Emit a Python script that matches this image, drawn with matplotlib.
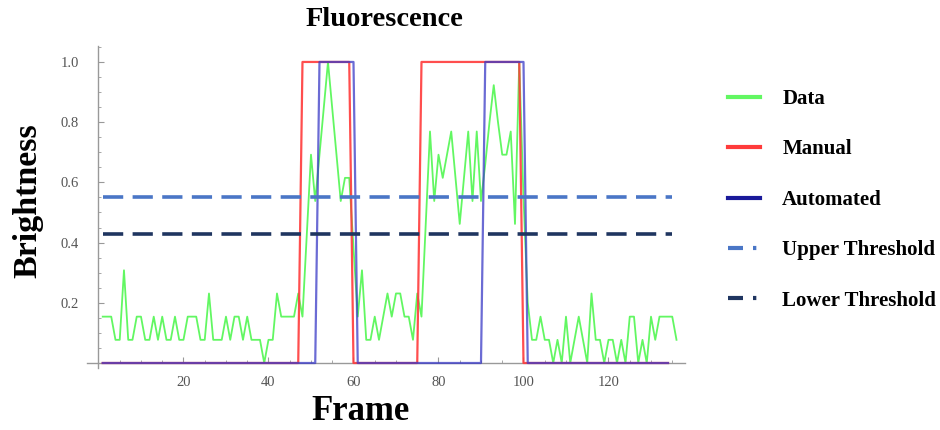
import matplotlib
matplotlib.use("Agg")
import matplotlib.pyplot as plt
from matplotlib.lines import Line2D
from matplotlib.ticker import MultipleLocator

plt.rcParams['font.family'] = ['Liberation Serif', 'DejaVu Serif']

# frames and brightness
frames = list(range(1, 137))
brightness = [
    0.154, 0.154, 0.154, 0.077, 0.077, 0.308, 0.077, 0.077, 0.154, 0.154,
    0.077, 0.077, 0.154, 0.077, 0.154, 0.077, 0.077, 0.154, 0.077, 0.077,
    0.154, 0.154, 0.154, 0.077, 0.077, 0.231, 0.077, 0.077, 0.077, 0.154,
    0.077, 0.154, 0.154, 0.077, 0.154, 0.077, 0.077, 0.077, 0.0, 0.077,
    0.077, 0.231, 0.154, 0.154, 0.154, 0.154, 0.231, 0.154, 0.42, 0.692,
    0.538, 0.692, 0.846, 1.0, 0.846, 0.692, 0.538, 0.615, 0.615, 0.385,
    0.154, 0.308, 0.077, 0.077, 0.154, 0.077, 0.154, 0.231, 0.154, 0.231,
    0.231, 0.154, 0.154, 0.077, 0.231, 0.154, 0.462, 0.769, 0.538, 0.692,
    0.615, 0.692, 0.769, 0.615, 0.462, 0.615, 0.769, 0.538, 0.769, 0.538,
    0.66, 0.80, 0.923, 0.80, 0.692, 0.692, 0.769, 0.462, 1.0, 0.55,
    0.20, 0.077, 0.077, 0.154, 0.077, 0.077, 0.0, 0.077, 0.0, 0.154,
    0.0, 0.077, 0.154, 0.077, 0.0, 0.231, 0.077, 0.077, 0.0, 0.077,
    0.077, 0.0, 0.077, 0.0, 0.154, 0.154, 0.0, 0.077, 0.0, 0.154,
    0.077, 0.154, 0.154, 0.154, 0.154, 0.077,
]

# manual / automated detection (on-intervals, inclusive)
state_frames = list(range(1, 135))
manual_on = [(48, 59), (76, 99)]
auto_on = [(52, 60), (91, 100)]
manual = [1 if any(a <= f <= b for a, b in manual_on) else 0 for f in state_frames]
automated = [1 if any(a <= f <= b for a, b in auto_on) else 0 for f in state_frames]

upper_threshold = 0.55
lower_threshold = 0.43
threshold_span = [1, 135]

fig = plt.figure(figsize=(9.4, 4.3), dpi=100)
ax = fig.add_axes([87 / 940, 1 - 368 / 430, 598 / 940, 322 / 430])

c_data = '#62f762'
c_manual = '#ff3b3b'
c_auto = '#3a3ac6'
c_upper = '#4a76c6'
c_lower = '#1f3560'

ax.plot(frames, brightness, color=c_data, lw=1.3, zorder=2)
ax.plot(state_frames, manual, color=c_manual, lw=1.6, alpha=0.9, zorder=3)
ax.plot(state_frames, automated, color=c_auto, lw=1.6, alpha=0.75, zorder=4)
ax.plot(threshold_span, [upper_threshold] * 2, color=c_upper, lw=2.6,
        dashes=(5.6, 2.6), zorder=5)
ax.plot(threshold_span, [lower_threshold] * 2, color=c_lower, lw=2.6,
        dashes=(5.6, 2.6), zorder=5)

ax.set_xlim(-2.7, 138)
ax.set_ylim(-0.0166, 1.053)

for s in ['top', 'right']:
    ax.spines[s].set_visible(False)
ax.spines['left'].set_position(('data', 0))
ax.spines['bottom'].set_position(('data', 0))
for s in ['left', 'bottom']:
    ax.spines[s].set_color('#999999')
    ax.spines[s].set_linewidth(1.0)

ax.set_xticks([20, 40, 60, 80, 100, 120])
ax.set_yticks([0.2, 0.4, 0.6, 0.8, 1.0])
ax.set_yticklabels(['0.2', '0.4', '0.6', '0.8', '1.0'])
ax.xaxis.set_minor_locator(MultipleLocator(5))
ax.yaxis.set_minor_locator(MultipleLocator(0.05))
ax.tick_params(which='both', direction='in', color='#999999', labelsize=10.5,
               labelcolor='#555555')
ax.tick_params(which='major', length=4, width=0.8)
ax.tick_params(which='minor', length=2, width=0.6)
ax.tick_params(axis='x', pad=9)
ax.tick_params(axis='y', pad=14)

fig.text(385 / 940, 1 - 19 / 430, 'Fluorescence', ha='center', va='center',
         fontsize=20.5, fontweight='bold')
fig.text(361 / 940, 1 - 411 / 430, 'Frame', ha='center', va='center',
         fontsize=25, fontweight='bold')
fig.text(28 / 940, 1 - 201 / 430, 'Brightness', ha='center', va='center',
         rotation=90, fontsize=24.5, fontweight='bold')

handles = [
    Line2D([], [], color=c_data, lw=3),
    Line2D([], [], color=c_manual, lw=3),
    Line2D([], [], color='#1a1a9a', lw=3),
    Line2D([], [], color=c_upper, lw=3, dashes=(3.6, 2.4, 0.8, 6)),
    Line2D([], [], color=c_lower, lw=3, dashes=(3.6, 2.4, 0.8, 6)),
]
labels = ['Data', 'Manual', 'Automated', 'Upper Threshold', 'Lower Threshold']
fig.legend(handles, labels, loc='upper left', bbox_to_anchor=(728 / 940, 1 - 89 / 430),
           frameon=False, borderpad=0, borderaxespad=0, handlelength=1.54,
           handletextpad=1.06, labelspacing=1.46,
           prop={'family': 'Liberation Serif', 'weight': 'bold', 'size': 15})

fig.savefig('out.png', dpi=100)
